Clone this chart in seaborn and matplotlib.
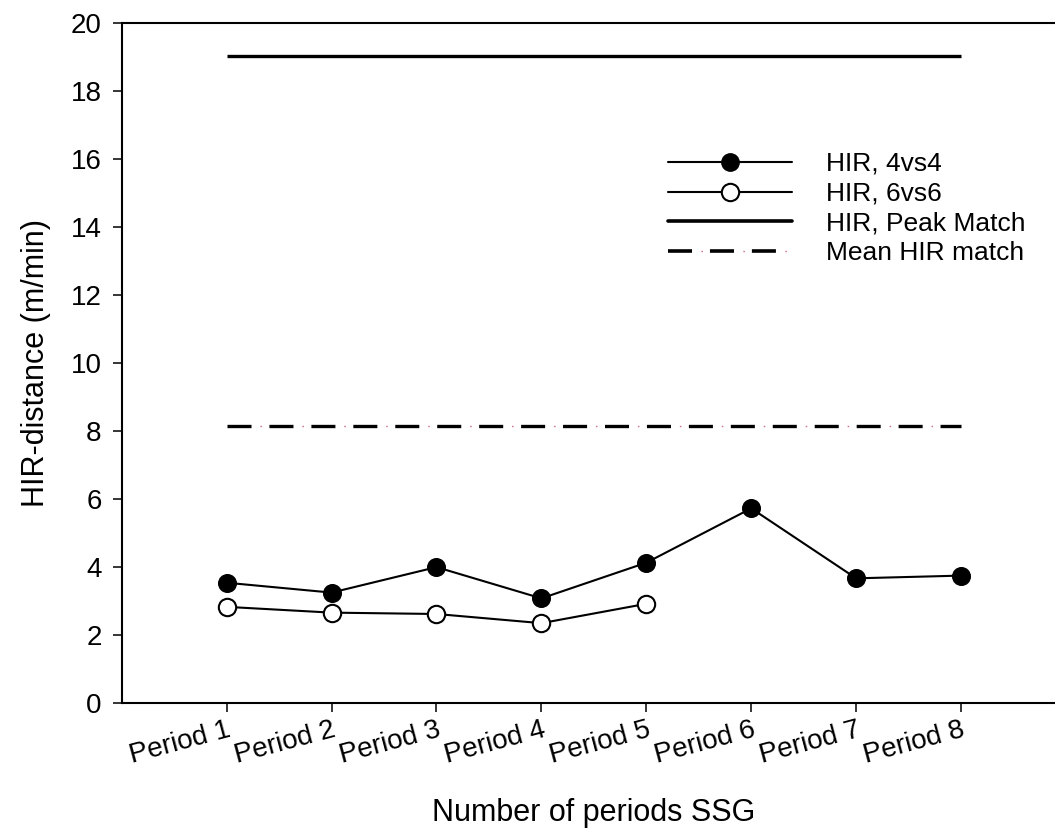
import numpy as np
import pandas as pd
import matplotlib
matplotlib.use("Agg")
import matplotlib.pyplot as plt
from matplotlib.lines import Line2D
import seaborn as sns

# ---- data ----
periods = ["Period 1", "Period 2", "Period 3", "Period 4",
           "Period 5", "Period 6", "Period 7", "Period 8"]
hir_4vs4 = [3.53, 3.24, 3.99, 3.07, 4.12, 5.72, 3.66, 3.74]
periods_6vs6 = ["Period 1", "Period 2", "Period 3", "Period 4", "Period 5"]
hir_6vs6 = [2.82, 2.65, 2.61, 2.34, 2.91]
peak_match = 19.05
mean_match = 8.15
y_ticks = [0, 2, 4, 6, 8, 10, 12, 14, 16, 18, 20]
legend_labels = ["HIR, 4vs4", "HIR, 6vs6", "HIR, Peak Match", "Mean HIR match"]
x_label = "Number of periods SSG"
y_label = "HIR-distance (m/min)"

sns.set_style("ticks")
plt.rcParams["font.family"] = ["Liberation Sans", "DejaVu Sans"]
plt.rcParams["lines.scale_dashes"] = False
plt.rcParams["text.color"] = "black"
plt.rcParams["axes.labelcolor"] = "black"

pos = {p: i + 1 for i, p in enumerate(periods)}
df4 = pd.DataFrame({"x": [pos[p] for p in periods], "y": hir_4vs4})
df6 = pd.DataFrame({"x": [pos[p] for p in periods_6vs6], "y": hir_6vs6})

fig = plt.figure(figsize=(10.55, 8.36), dpi=100)
ax = fig.add_axes([0.1154, 0.1595, 0.895, 0.8127])

msize = 12.5
sns.lineplot(data=df4, x="x", y="y", ax=ax, color="black", linewidth=1.5,
             marker="o", markersize=msize, markerfacecolor="black",
             markeredgecolor="black", markeredgewidth=1.2, zorder=3)
sns.lineplot(data=df6, x="x", y="y", ax=ax, color="black", linewidth=1.5,
             marker="o", markersize=msize, markerfacecolor="white",
             markeredgecolor="black", markeredgewidth=1.5, zorder=3)

dash_ls = (0, (17.3, 12.9))
dot_ls = (6.5, (1.1, 29.1))
pink = "#d0708a"

xs = [pos[periods[0]], pos[periods[-1]]]
ax.plot(xs, [peak_match, peak_match], color="black", linewidth=2.4,
        solid_capstyle="butt")
ax.plot(xs, [mean_match, mean_match], color="black", linewidth=2.4,
        linestyle=dash_ls, dash_capstyle="butt")
ax.plot(xs, [mean_match, mean_match], color=pink, linewidth=1.0,
        linestyle=dot_ls, dash_capstyle="butt")

ax.set_xlim(0, 9)
ax.set_ylim(0, 20)
ax.set_yticks(y_ticks)
ax.set_yticklabels([str(v) for v in y_ticks])
ax.set_xticks([pos[p] for p in periods])
ax.set_xticklabels(periods)

ax.tick_params(axis="both", direction="out", length=6.5, width=1.1,
               color="black", labelsize=20, labelcolor="black")
ax.tick_params(axis="y", pad=8)
ax.tick_params(axis="x", pad=4)
for lab in ax.get_xticklabels():
    lab.set_rotation(15)
    lab.set_ha("right")
    lab.set_va("top")
    lab.set_rotation_mode("anchor")

for s in ax.spines.values():
    s.set_linewidth(1.5)
    s.set_color("black")

ax.set_xlabel(x_label, fontsize=22, labelpad=21, color="black")
ax.set_ylabel(y_label, fontsize=22, labelpad=14, color="black")

h_dash = Line2D([], [], color="black", linewidth=2.6, linestyle=dash_ls,
                dash_capstyle="butt")
h_dot = Line2D([], [], color=pink, linewidth=1.0, linestyle=dot_ls,
               dash_capstyle="butt")
handles = [
    Line2D([], [], color="black", linewidth=1.5, marker="o", markersize=msize,
           markerfacecolor="black", markeredgecolor="black"),
    Line2D([], [], color="black", linewidth=1.5, marker="o", markersize=msize,
           markerfacecolor="white", markeredgecolor="black", markeredgewidth=1.5),
    Line2D([], [], color="black", linewidth=2.6),
    (h_dash, h_dot),
]
leg = fig.legend(handles, legend_labels, loc="upper left",
                 bbox_to_anchor=(668 / 1055, 1 - 152 / 836),
                 frameon=False, fontsize=19, handlelength=4.7,
                 handletextpad=1.3, labelspacing=0.22, borderpad=0,
                 borderaxespad=0, numpoints=1)
for t in leg.get_texts():
    t.set_color("black")

fig.savefig("out.png", dpi=100, facecolor="white")
